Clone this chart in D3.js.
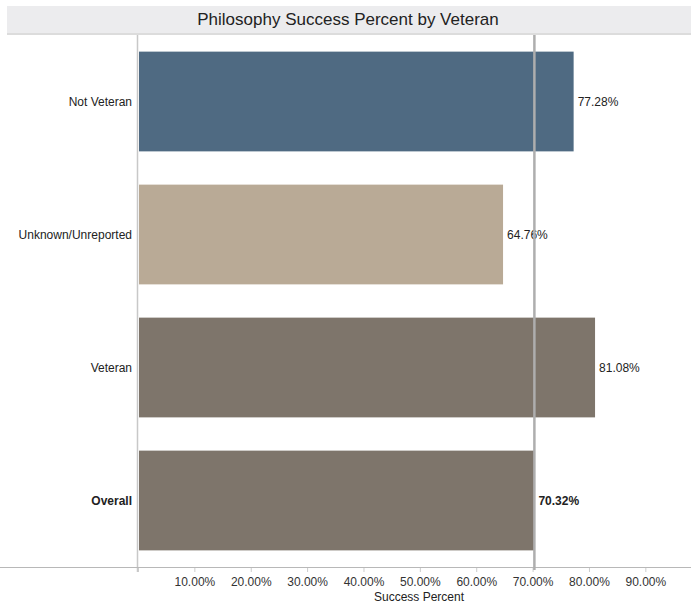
<!DOCTYPE html>
<html><head><meta charset="utf-8">
<script src="https://cdn.jsdelivr.net/npm/d3@7"></script>
<style>body{margin:0;background:#fff;font-family:Arial,"Liberation Sans",sans-serif}</style>
</head><body>
<svg id="c" width="691" height="606"></svg>
<script>
const categories = ["Not Veteran", "Unknown/Unreported", "Veteran", "Overall"];
const values = [0.7728, 0.6476, 0.8108, 0.7032];
const colors = ["#4f6a82", "#b9aa96", "#7e756b", "#7e756b"];
const tickValues = [0.1,0.2,0.3,0.4,0.5,0.6,0.7,0.8,0.9];
const referenceValue = 0.7032;
const title = "Philosophy Success Percent by Veteran";
const xTitle = "Success Percent";

(function(){
const svg = d3.select("#c");
const W = 691;
const plotLeft = 138, plotTop = 35, plotBottom = 567;

// title band
svg.append("rect").attr("x",7).attr("y",6).attr("width",W-7).attr("height",27).attr("fill","#ececee");
svg.append("line").attr("x1",7).attr("x2",W).attr("y1",34).attr("y2",34).attr("stroke","#d0d0d0").attr("stroke-width",1.5);
svg.append("text").attr("x",348).attr("y",25).attr("text-anchor","middle")
  .attr("font-size",17).attr("fill","#222").text(title);

const x = d3.scaleLinear().domain([0, (W-plotLeft)/563.7]).range([plotLeft, W]);
const y = d3.scaleBand().domain(categories).range([plotTop, plotBottom]).paddingInner(0.25).paddingOuter(0.125);

// bars
svg.selectAll("rect.bar").data(categories).enter().append("rect")
  .attr("class","bar")
  .attr("x", x(0)+1)
  .attr("y", d=>y(d))
  .attr("width", (d,i)=>x(values[i])-x(0)-1)
  .attr("height", y.bandwidth())
  .attr("fill", (d,i)=>colors[i]);

// value labels
svg.selectAll("text.val").data(categories).enter().append("text")
  .attr("class","val")
  .attr("x",(d,i)=>x(values[i])+4)
  .attr("y",d=>y(d)+y.bandwidth()/2+4)
  .attr("font-size",12)
  .attr("font-weight",(d,i)=>i===3?"bold":"normal")
  .attr("fill","#222")
  .text((d,i)=>d3.format(".2%")(values[i]));

// category labels
svg.selectAll("text.cat").data(categories).enter().append("text")
  .attr("class","cat")
  .attr("x",132)
  .attr("y",d=>y(d)+y.bandwidth()/2+4)
  .attr("text-anchor","end")
  .attr("font-size",12)
  .attr("font-weight",(d,i)=>i===3?"bold":"normal")
  .attr("fill","#222")
  .text(d=>d);

// left axis line
svg.append("line").attr("x1",plotLeft-0.5).attr("x2",plotLeft-0.5).attr("y1",35).attr("y2",572)
  .attr("stroke","#c8c8c8").attr("stroke-width",1.5);

// bottom line
svg.append("line").attr("x1",0).attr("x2",W).attr("y1",plotBottom+0.5).attr("y2",plotBottom+0.5)
  .attr("stroke","#b8b8b8").attr("stroke-width",1);

// x axis
const ax = svg.append("g").attr("transform",`translate(0,${plotBottom+1})`)
  .call(d3.axisBottom(x).tickValues([0].concat(tickValues)).tickSize(4).tickFormat((d)=>d===0?"":d3.format(".2%")(d)));
ax.select(".domain").remove();
ax.selectAll(".tick line").attr("stroke","#ccc");
ax.selectAll(".tick text").attr("font-size",12).attr("fill","#333").attr("dy","0.95em")
  .attr("font-family","Arial,'Liberation Sans',sans-serif");

svg.append("text").attr("x",419).attr("y",601).attr("text-anchor","middle")
  .attr("font-size",12).attr("fill","#222").text(xTitle);

// reference line
svg.append("line").attr("x1",x(referenceValue)).attr("x2",x(referenceValue)).attr("y1",35).attr("y2",570)
  .attr("stroke","#aeaeae").attr("stroke-width",2.5);
})();
</script>
</body></html>
